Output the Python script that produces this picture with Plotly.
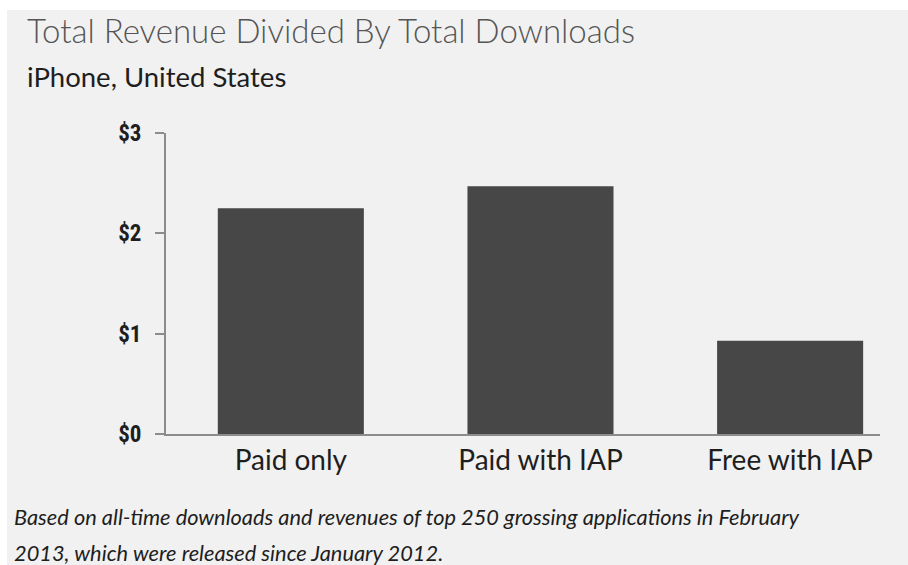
import plotly.graph_objects as go

# Chart data
categories = ["Paid only", "Paid with IAP", "Free with IAP"]
revenue_per_download = [2.25, 2.47, 0.93]
y_tick_values = [0, 1, 2, 3]
y_tick_labels = ["$0", "$1", "$2", "$3"]

title_text = "Total Revenue Divided By Total Downloads"
subtitle_text = "iPhone, United States"
footnote_lines = [
    "Based on all-time downloads and revenues of top 250 grossing applications in February",
    "2013, which were released since January 2012.",
]

W, H = 908, 565
L, R, T, B = 166, 28, 133, 131
PW, PH = W - L - R, H - T - B

BG = "#f1f1f1"
BAR = "#474747"
AXIS = "#8c8c8c"
TEXT_FONT = "Lato"


def px_x(px):
    return (px - L) / PW


def px_y(py):
    return (H - B - py) / PH


fig = go.Figure(
    go.Bar(
        x=categories,
        y=revenue_per_download,
        marker=dict(color=BAR, line=dict(width=0)),
        hoverinfo="skip",
    )
)

annotations = [
    dict(text=title_text, x=px_x(25), y=px_y(30), xanchor="left", yanchor="middle",
         font=dict(family=TEXT_FONT, size=33, color="#555555", weight=300)),
    dict(text=subtitle_text, x=px_x(25), y=px_y(77), xanchor="left", yanchor="middle",
         font=dict(family=TEXT_FONT, size=27.5, color="#1e1e1e")),
]
for i, line in enumerate(footnote_lines):
    annotations.append(
        dict(text="<i>" + line + "</i>", x=px_x(12), y=px_y(516 + 36 * i),
             xanchor="left", yanchor="middle",
             font=dict(family=TEXT_FONT, size=21.8, color="#1e1e1e"))
    )
for a in annotations:
    a.update(xref="paper", yref="paper", showarrow=False)

fig.update_layout(
    width=W,
    height=H,
    margin=dict(l=L, r=R, t=T, b=B, pad=0),
    paper_bgcolor=BG,
    plot_bgcolor=BG,
    bargap=0.415,
    showlegend=False,
    annotations=annotations,
    shapes=[
        # white strips along the top and left edges
        dict(type="rect", xref="paper", yref="paper", x0=px_x(0), x1=px_x(W),
             y0=px_y(10), y1=px_y(0), fillcolor="white", line=dict(width=0), layer="below"),
        dict(type="rect", xref="paper", yref="paper", x0=px_x(0), x1=px_x(7),
             y0=px_y(H), y1=px_y(0), fillcolor="white", line=dict(width=0), layer="below"),
    ],
    xaxis=dict(
        range=[-0.5, 2.36],
        showline=True,
        linecolor=AXIS,
        linewidth=2,
        ticks="",
        showgrid=False,
        zeroline=False,
        tickfont=dict(family=TEXT_FONT, size=28, color="#1e1e1e"),
        ticklabelstandoff=0,
        fixedrange=True,
    ),
    yaxis=dict(
        range=[0, 3],
        tickvals=y_tick_values,
        ticktext=y_tick_labels,
        showline=True,
        linecolor=AXIS,
        linewidth=2,
        ticks="outside",
        ticklen=9,
        tickwidth=2,
        tickcolor=AXIS,
        showgrid=False,
        zeroline=False,
        tickfont=dict(family="Liberation Sans Narrow, Roboto Condensed, Roboto", size=23,
                      color="#1e1e1e", weight="bold"),
        ticklabelstandoff=9,
        fixedrange=True,
    ),
)

fig.write_html("out.html", config={"displayModeBar": False})
